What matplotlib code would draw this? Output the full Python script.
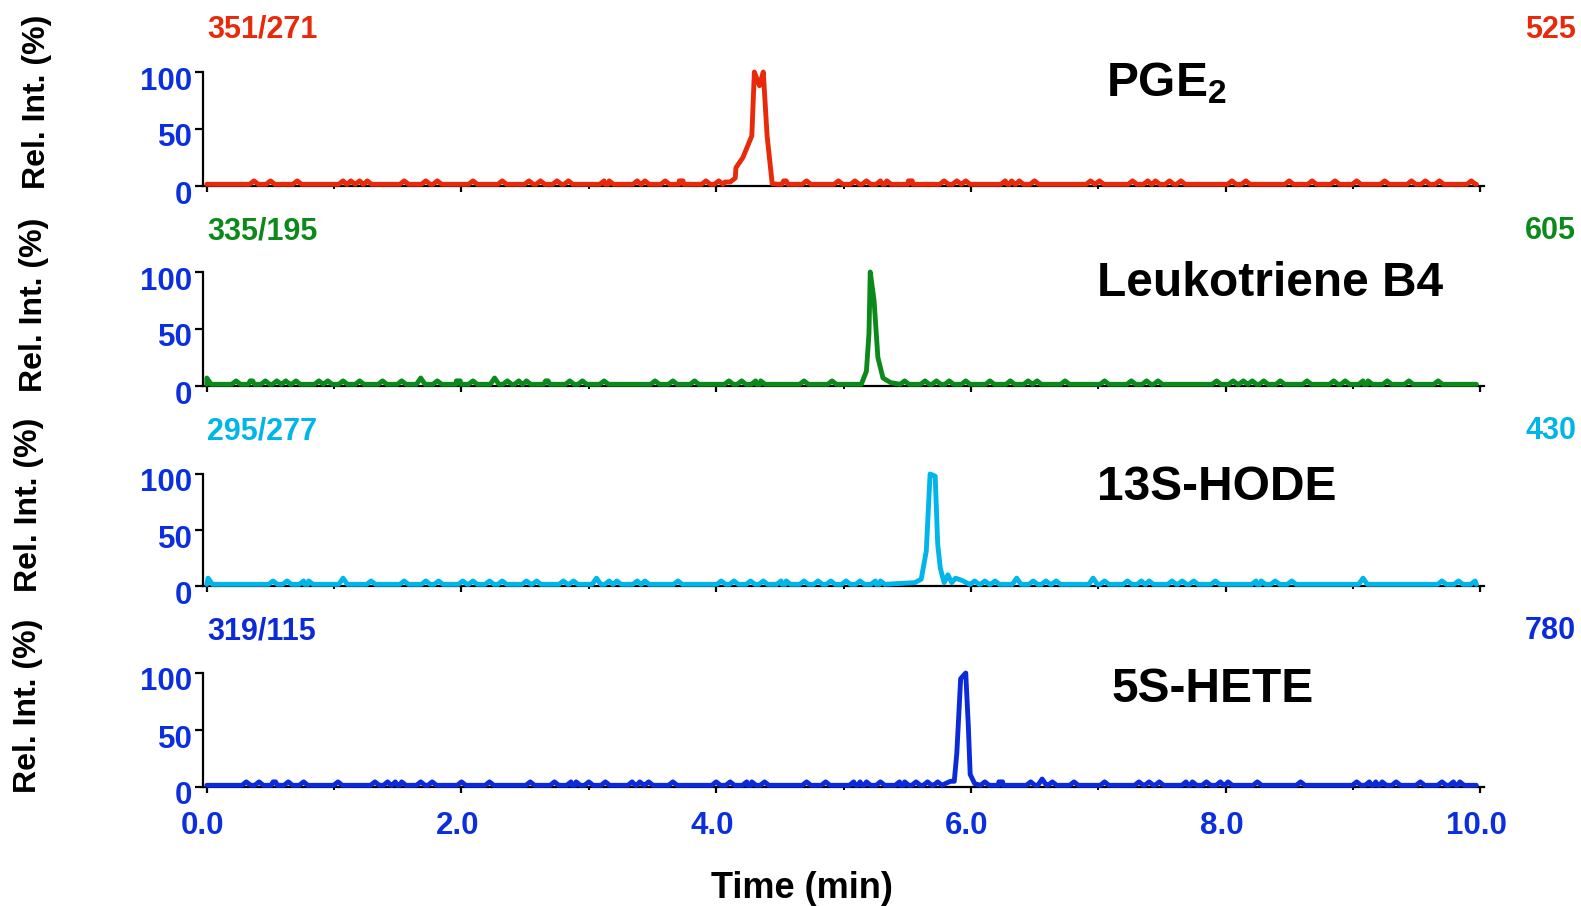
import matplotlib
matplotlib.use('Agg')
import matplotlib.pyplot as plt
from matplotlib.transforms import ScaledTranslation

plt.rcParams['font.family'] = ['Liberation Sans', 'DejaVu Sans']
plt.rcParams['font.weight'] = 'bold'
plt.rcParams['mathtext.fontset'] = 'custom'
plt.rcParams['mathtext.rm'] = 'Liberation Sans:bold'
plt.rcParams['mathtext.bf'] = 'Liberation Sans:bold'
plt.rcParams['mathtext.default'] = 'bf'

# ---------------- data ----------------
names = ["PGE$_2$", "Leukotriene B4", "13S-HODE", "5S-HETE"]
transitions = ["351/271", "335/195", "295/277", "319/115"]
max_counts = ["525", "605", "430", "780"]
colors = ["#E8290A", "#0B8A1B", "#00B5EA", "#0B2BDB"]
xtick_labels = ["0.0", "2.0", "4.0", "6.0", "8.0", "10.0"]
xtick_values = [0, 2, 4, 6, 8, 10]
ytick_values = [0, 50, 100]

# baseline noise bumps (retention time, min)
pge2_bumps = [0.37, 0.50, 0.71, 1.07, 1.13, 1.20, 1.26, 1.55, 1.72, 1.81, 2.09, 2.32,
              2.53, 2.62, 2.75, 2.84, 3.12, 3.16, 3.38, 3.44, 3.60, 3.71, 3.74, 3.92,
              4.02, 4.53, 4.55, 4.71, 4.96, 5.09, 5.18, 5.29, 5.34, 5.51, 5.54,
              5.79, 5.89, 5.96, 6.27, 6.32, 6.38, 6.50, 6.94, 7.01, 7.27, 7.39, 7.45,
              7.56, 7.65, 8.05, 8.16, 8.50, 8.68, 8.86, 9.03, 9.25, 9.46, 9.57, 9.68, 9.93]
pge2_tall = []
pge2_peak_t = [4.07, 4.11, 4.15, 4.155, 4.21, 4.28, 4.30, 4.34, 4.37, 4.40, 4.44]
pge2_peak_y = [3.5, 3.5, 7, 16, 25, 44, 100, 88, 100, 44, 2]

ltb4_bumps = [0.23, 0.34, 0.36, 0.46, 0.55, 0.62, 0.70, 0.88, 0.95, 1.07, 1.20, 1.38,
              1.53, 1.81, 1.96, 1.99, 2.09, 2.36, 2.45, 2.51, 2.66, 2.68, 2.85, 2.95,
              3.12, 3.52, 3.66, 3.83, 4.10, 4.20, 4.31, 4.35, 4.69, 4.91, 5.48, 5.64,
              5.73, 5.83, 5.96, 6.15, 6.31, 6.45, 6.52, 6.74, 7.05, 7.26, 7.38, 7.47,
              7.93, 8.06, 8.14, 8.21, 8.30, 8.43, 8.64, 8.85, 8.94, 9.08, 9.12, 9.27,
              9.44, 9.67]
ltb4_tall = [0.0, 1.68, 2.26]
ltb4_peak_t = [5.14, 5.18, 5.20, 5.21, 5.24, 5.27, 5.31, 5.37]
ltb4_peak_y = [1.5, 13, 46, 100, 75, 25, 7, 3]

hode_bumps = [0.52, 0.63, 0.76, 0.80, 1.29, 1.55, 1.72, 1.82, 2.01, 2.09, 2.22, 2.32,
              2.51, 2.59, 2.80, 2.88, 3.16, 3.22, 3.38, 3.44, 3.70, 4.04, 4.14, 4.27,
              4.37, 4.51, 4.55, 4.69, 4.80, 4.90, 5.02, 5.13, 5.25, 5.29, 6.03, 6.11,
              6.19, 6.49, 6.59, 6.67, 7.05, 7.23, 7.34, 7.40, 7.58, 7.66, 7.75, 7.92,
              8.24, 8.28, 8.39, 8.52, 9.70, 9.83, 9.96]
hode_tall = [0.01, 1.07, 3.06, 6.36, 6.96, 9.08]
hode_peak_t = [5.56, 5.61, 5.65, 5.68, 5.72, 5.74, 5.76, 5.79, 5.82, 5.85, 5.88, 5.93, 5.99]
hode_peak_y = [3, 6, 31, 100, 98, 37, 16, 3, 10, 3, 7, 5, 1.5]

hete_bumps = [0.31, 0.41, 0.52, 0.54, 0.64, 0.76, 1.03, 1.32, 1.42, 1.48, 1.53, 1.68,
              1.77, 2.00, 2.22, 2.54, 2.73, 2.86, 2.90, 3.00, 3.13, 3.34, 3.40, 3.47,
              3.66, 4.00, 4.11, 4.24, 4.28, 4.38, 4.71, 4.86, 5.08, 5.13, 5.18, 5.29,
              5.44, 5.48, 5.57, 5.66, 5.74, 6.11, 6.22, 6.25, 6.47, 6.64, 6.81,
              7.05, 7.32, 7.40, 7.48, 7.69, 7.74, 7.85, 7.96, 8.02, 8.25, 8.59, 9.03,
              9.13, 9.18, 9.23, 9.34, 9.53, 9.70, 9.79, 9.84]
hete_tall = [6.56]
hete_peak_t = [5.80, 5.84, 5.87, 5.89, 5.92, 5.96, 5.98, 5.995, 6.03]
hete_peak_y = [3, 5, 5, 30, 95, 100, 54, 11, 3]

series = [
    (pge2_bumps, pge2_tall, pge2_peak_t, pge2_peak_y),
    (ltb4_bumps, ltb4_tall, ltb4_peak_t, ltb4_peak_y),
    (hode_bumps, hode_tall, hode_peak_t, hode_peak_y),
    (hete_bumps, hete_tall, hete_peak_t, hete_peak_y),
]

BASE, BUMP, TALL, HW = 1.5, 4.5, 7.0, 0.034


def build_trace(bumps, tall, peak_t, peak_y):
    pts = [(0.0, BASE), (9.97, BASE)]
    for group, h in ((bumps, BUMP), (tall, TALL)):
        for t in group:
            pts += [(max(0.0, t - HW), BASE), (t, h), (min(9.97, t + HW), BASE)]
    pts += list(zip(peak_t, peak_y))
    pts.sort(key=lambda p: p[0])
    return [p[0] for p in pts], [p[1] for p in pts]


# ---------------- layout ----------------
W, H = 1581, 906
fig = plt.figure(figsize=(W / 100, H / 100), dpi=100)

def fx(x):
    return x / W

def fy(y):
    return 1 - y / H

tops = [72, 272, 474, 673]
bottoms = [186, 386, 586, 787]
left_px, right_px = 203, 1484
tick_blue = "#0B2FE0"

name_pos = [(1106, 83), (1097, 284), (1097, 488), (1112, 689)]
ylab_pos = [(37, 102), (34, 305), (29, 505), (28, 706)]
trans_y = [30, 231, 431, 631]

for i in range(4):
    ax = fig.add_axes([fx(left_px), fy(bottoms[i]), fx(right_px - left_px),
                       (bottoms[i] - tops[i]) / H])
    t, y = build_trace(*series[i])
    ax.plot(t, y, color=colors[i], lw=3.5, solid_joinstyle='round',
            solid_capstyle='round', clip_on=False, zorder=3)
    ax.set_xlim(-0.03, 10.03)
    ax.set_ylim(0, 100)
    for s in ("top", "right"):
        ax.spines[s].set_visible(False)
    for s in ("left", "bottom"):
        ax.spines[s].set_linewidth(1.6)
        ax.spines[s].set_color("black")
    ax.set_yticks(ytick_values)
    ax.set_yticklabels([str(v) for v in ytick_values])
    ax.set_xticks(xtick_values)
    ax.set_xticks([1, 3, 5, 7, 9], minor=True)
    ax.tick_params(axis='y', direction='out', length=6, width=1.6, pad=1.5,
                   labelsize=22.5, labelcolor=tick_blue)
    ax.tick_params(axis='x', which='major', direction='out', length=4, width=1.6,
                   pad=13, labelsize=22.5, labelcolor=tick_blue)
    ax.tick_params(axis='x', which='minor', direction='out', length=2, width=1.4)
    for lab in ax.get_yticklabels():
        lab.set_fontweight('bold')
        lab.set_transform(lab.get_transform() + ScaledTranslation(0, -0.06, fig.dpi_scale_trans))
    if i == 3:
        ax.set_xticklabels(xtick_labels)
        for lab in ax.get_xticklabels():
            lab.set_fontweight('bold')
            lab.set_transform(lab.get_transform() + ScaledTranslation(-0.04, 0, fig.dpi_scale_trans))
    else:
        ax.set_xticklabels([])
    ax.patch.set_alpha(0)

    fig.text(fx(207), fy(trans_y[i]), transitions[i], color=colors[i], fontsize=22,
             fontweight='bold', ha='left', va='center')
    fig.text(fx(1576), fy(trans_y[i]), max_counts[i], color=colors[i], fontsize=22,
             fontweight='bold', ha='right', va='center')
    fig.text(fx(name_pos[i][0]), fy(name_pos[i][1]), names[i], color='black', fontsize=34.5,
             fontweight='bold', ha='left', va='center')
    fig.text(fx(ylab_pos[i][0]), fy(ylab_pos[i][1]), "Rel. Int. (%)", color='black',
             fontsize=23, fontweight='bold', rotation=90, ha='center', va='center')

fig.text(fx(802), fy(888), "Time (min)", color='black', fontsize=26, fontweight='bold',
         ha='center', va='center')

fig.savefig("out.png", dpi=100)
